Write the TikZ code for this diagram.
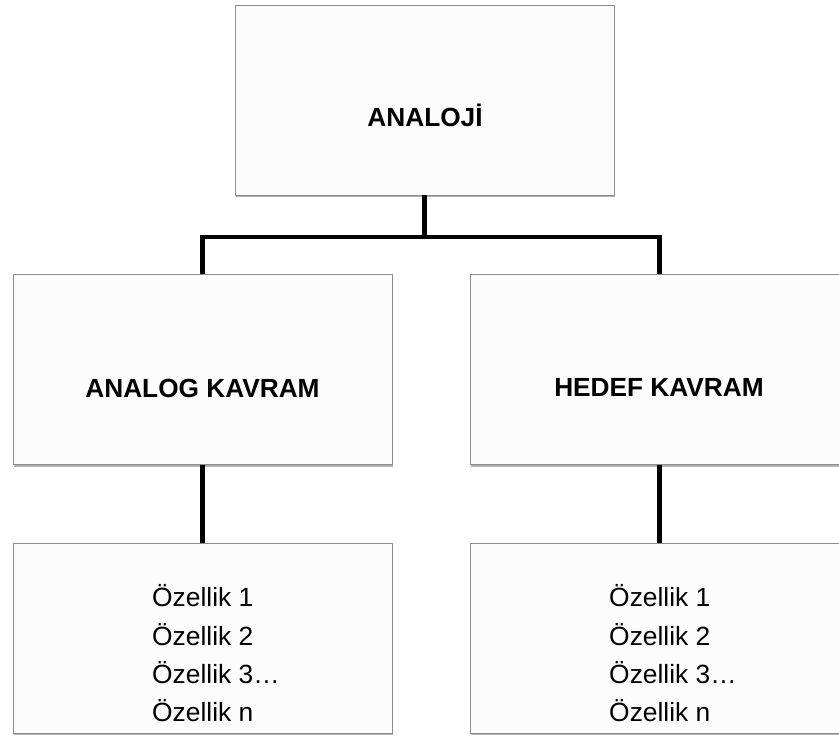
\documentclass[tikz,border=0pt]{standalone}
\usepackage{fontspec}
\setmainfont{Liberation Sans}
\usetikzlibrary{shadows}
\tikzset{
  box/.style={draw=black!45, line width=0.8pt, fill=black!1, minimum width=11.37cm, minimum height=5.7cm, inner sep=0pt,
    drop shadow={shadow xshift=0.5pt, shadow yshift=-1.8pt, fill=black!60, opacity=0.5}},
  title/.style={font=\fontsize{22.4}{26}\selectfont\bfseries, anchor=base, inner sep=0pt},
  prop/.style={font=\fontsize{22.5}{26}\selectfont, anchor=base west, inner sep=0pt},
  conn/.style={line width=4.2pt}
}

\begin{document}
\begin{tikzpicture}[x=0.03cm, y=-0.03cm]
  \useasboundingbox (0,0) rectangle (839,736);
  % Boxes
  \node[box] (analoji) at (424.5,100) {};
  \node[box] (analog) at (202.5,369.5) {};
  \node[box] (hedef) at (659.5,369.5) {};
  \node[box] (analogProps) at (202.5,638) {};
  \node[box] (hedefProps) at (659.5,638) {};
  % Titles
  \node[title] (analojiText) at (425,127) {ANALOJİ};
  \node[title] (analogText) at (202.5,397) {ANALOG KAVRAM};
  \node[title] (hedefText) at (659,396) {HEDEF KAVRAM};
  % Properties
  \foreach \i/\t [count=\k] in {0/1, 1/2, 2/3…, 3/n} {
    \node[prop] (analogProp\k) at (152,606.7+38.3*\i) {Özellik \t};
    \node[prop] (hedefProp\k) at (609,606.7+38.3*\i) {Özellik \t};
  }
  % Connectors
  \coordinate (junction) at (424.5,237);
  \draw[conn] (analoji.south) -- (junction);
  \draw[conn] (analog.north) |- (junction) -| (hedef.north);
  \draw[conn] (analog.south) -- (analogProps.north);
  \draw[conn] (hedef.south) -- (hedefProps.north);
\end{tikzpicture}
\end{document}
